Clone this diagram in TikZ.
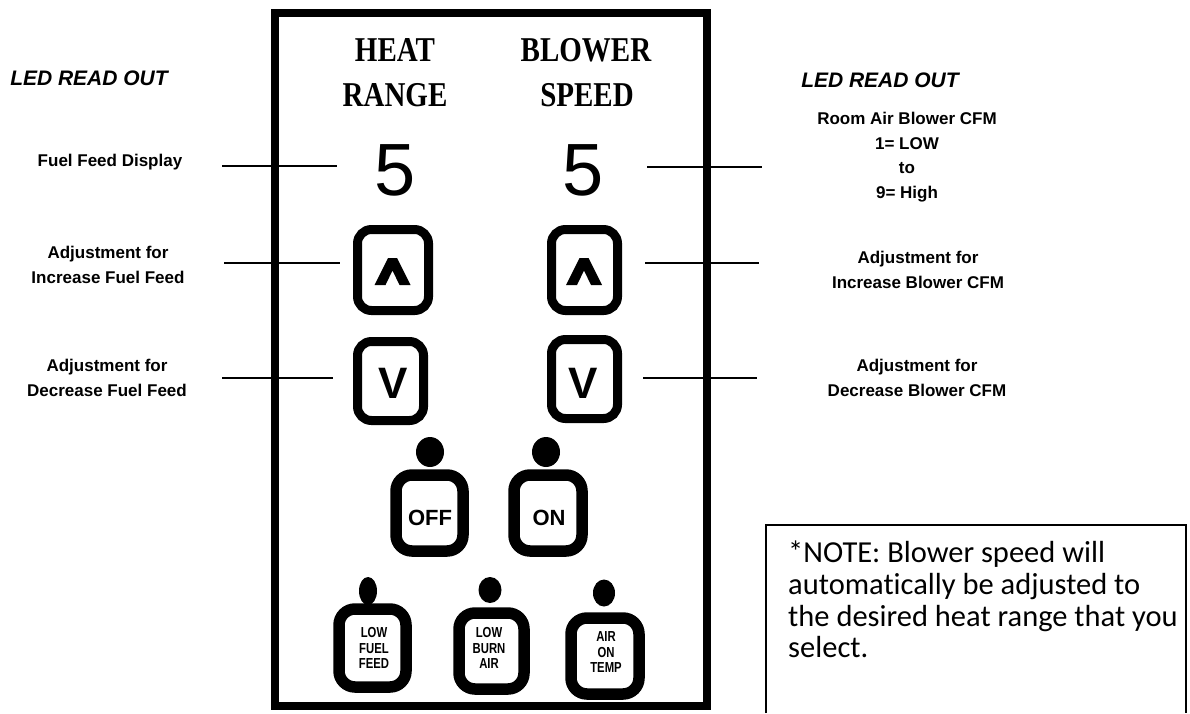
\documentclass[tikz,border=0pt]{standalone}
\usepackage{fontspec}
\setmainfont{Liberation Serif}
\setsansfont{Liberation Sans}
\newfontfamily\notefont[Ligatures=NoCommon]{Carlito}
\usepackage{graphicx}
\usetikzlibrary{shapes.geometric}
\begin{document}
\begin{tikzpicture}[x=1pt,y=-1pt,
  lbl/.style={font=\sffamily\bfseries\fontsize{17}{24.5}\selectfont, align=center, inner sep=0pt},
  ledhead/.style={font=\sffamily\bfseries\itshape\fontsize{21}{24}\selectfont, inner sep=0pt},
  head/.style={font=\rmfamily\bfseries\fontsize{29}{30}\selectfont, inner sep=0pt},
  digit/.style={font=\sffamily\fontsize{74}{74}\selectfont, inner sep=0pt},
  vsym/.style={font=\sffamily\bfseries\fontsize{44}{44}\selectfont, inner sep=0pt},
  leader/.style={line width=2.3pt},
  btn/.style={draw, line width=9pt, rounded corners=14pt, inner sep=0pt},
  bigbtn/.style={draw, line width=11.5pt, rounded corners=16pt, inner sep=0pt},
  btntext/.style={font=\sffamily\bfseries\fontsize{22}{22}\selectfont},
  smalltext/.style={font=\sffamily\bfseries\fontsize{14.5}{15.5}\selectfont, align=center, inner sep=0pt},
  led/.style={ellipse, fill=black, inner sep=0pt},
  caretshape/.pic={\fill (-4.5,-14) -- (4.5,-14) -- (18,13) -- (7,13) -- (0,-1.5) -- (-7,13) -- (-18,13) -- cycle;}
]
\useasboundingbox (0,0) rectangle (1190,713);
\fill[white] (0,0) rectangle (1190,713);

% panel
\draw[line width=8pt] (275,13) rectangle (707,706);

% headers
\node[head] (heat) at (395,50) {\scalebox{1}[1.2]{HEAT}};
\node[head] (range) at (395,95) {\scalebox{1}[1.2]{RANGE}};
\node[head] (blower) at (586,50) {\scalebox{1}[1.2]{BLOWER}};
\node[head] (speed) at (587,95) {\scalebox{1}[1.2]{SPEED}};

% digits
\node[digit] (d1) at (395,170) {5};
\node[digit] (d2) at (583,170) {5};

% up buttons
\node[btn, minimum width=71pt, minimum height=81pt] (upL) at (393,270) {};
\node[btn, minimum width=66pt, minimum height=81pt] (upR) at (584.5,270) {};
\pic at (392.5,272) {caretshape};
\pic at (584,272) {caretshape};

% down buttons
\node[btn, minimum width=66pt, minimum height=79pt] (dnL) at (390.5,381) {};
\node[btn, minimum width=66pt, minimum height=79pt] (dnR) at (584.5,379) {};
\node[vsym] (vL) at (393,383.5) {V};
\node[vsym] (vR) at (583,383) {V};

% off / on
\node[led, minimum width=28pt, minimum height=30pt] (ledoff) at (430,452) {};
\node[led, minimum width=28pt, minimum height=30pt] (ledon) at (546,452) {};
\node[bigbtn, minimum width=67pt, minimum height=76pt] (off) at (429.5,513) {};
\node[bigbtn, minimum width=68pt, minimum height=76pt] (on) at (548,513) {};
\node[btntext, inner sep=0pt] (offt) at (430,518) {OFF};
\node[btntext, inner sep=0pt] (ont) at (549,518) {ON};

% bottom row
\node[led, minimum width=18pt, minimum height=28pt] (led1) at (368,591) {};
\node[led, minimum width=23pt, minimum height=26pt] (led2) at (490,590) {};
\node[led, minimum width=22pt, minimum height=27pt] (led3) at (604,593) {};
\node[bigbtn, minimum width=67pt, minimum height=78pt] (b1) at (372.5,648) {};
\node[bigbtn, minimum width=65pt, minimum height=76pt] (b2) at (491.5,651) {};
\node[bigbtn, minimum width=68pt, minimum height=76pt] (b3) at (605,656) {};
\node[smalltext] (t1) at (374,648) {\scalebox{0.78}[1]{LOW}\\\scalebox{0.78}[1]{FUEL}\\\scalebox{0.78}[1]{FEED}};
\node[smalltext] (t2) at (489,648) {\scalebox{0.78}[1]{LOW}\\\scalebox{0.78}[1]{BURN}\\\scalebox{0.78}[1]{AIR}};
\node[smalltext] (t3) at (606,652) {\scalebox{0.78}[1]{AIR}\\\scalebox{0.78}[1]{ON}\\\scalebox{0.78}[1]{TEMP}};

% left labels
\node[ledhead] (ledL) at (89,78) {LED READ OUT};
\node[lbl] (fuelDisp) at (110,162) {Fuel Feed Display};
\node[lbl] (incFuel) at (108,265) {Adjustment for\\Increase Fuel Feed};
\node[lbl] (decFuel) at (107,378) {Adjustment for\\Decrease Fuel Feed};

% right labels
\node[ledhead] (ledR) at (880,80) {LED READ OUT};
\node[lbl] (roomAir) at (907,157) {Room Air Blower CFM\\1= LOW\\to\\9= High};
\node[lbl] (incBlow) at (918,270) {Adjustment for\\Increase Blower CFM};
\node[lbl] (decBlow) at (917,378) {Adjustment for\\Decrease Blower CFM};

% leader lines
\coordinate (l1a) at (222,166); \coordinate (l1b) at (337,166);
\coordinate (l2a) at (224,263); \coordinate (l2b) at (340,263);
\coordinate (l3a) at (222,378); \coordinate (l3b) at (333,378);
\coordinate (r1a) at (647,167); \coordinate (r1b) at (762,167);
\coordinate (r2a) at (645,263); \coordinate (r2b) at (759,263);
\coordinate (r3a) at (643,378); \coordinate (r3b) at (757,378);
\draw[leader] (l1a) -- (l1b);
\draw[leader] (l2a) -- (l2b);
\draw[leader] (l3a) -- (l3b);
\draw[leader] (r1a) -- (r1b);
\draw[leader] (r2a) -- (r2b);
\draw[leader] (r3a) -- (r3b);

% note box
\draw[line width=1.5pt] (766,713) -- (766,525) -- (1186,525) -- (1186,713);
\node[font=\notefont\fontsize{30.5}{31.7}\selectfont, align=left, anchor=north west, inner sep=0pt] (note) at (788,541)
 {*NOTE: Blower speed will\\automatically be adjusted to\\the desired heat range that you\\select.};
\end{tikzpicture}
\end{document}
